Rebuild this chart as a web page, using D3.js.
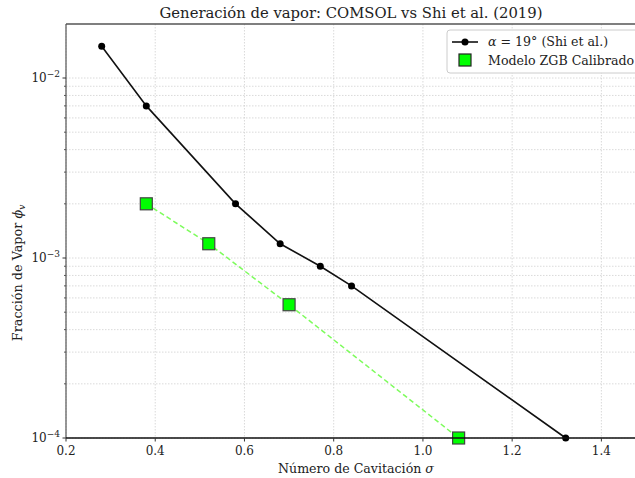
<!DOCTYPE html>
<html>
<head>
<meta charset="utf-8">
<script src="https://cdn.jsdelivr.net/npm/d3@7"></script>
<style>
  body { margin: 0; background: #fff; }
  svg text { font-family: "DejaVu Serif", serif; fill: #222; }
</style>
</head>
<body>
<div id="chart"></div>
<script>
// DATA
// ----------------------------------------
const SHI_SIGMA = [0.28, 0.38, 0.58, 0.68, 0.77, 0.84, 1.32];
const SHI_PHI = [0.015, 0.007, 0.002, 0.0012, 0.0009, 0.0007, 0.0001];
const ZGB_SIGMA = [0.38, 0.52, 0.70, 1.08];
const ZGB_PHI = [0.002, 0.0012, 0.00055, 0.0001];
const X_TICKS = [0.2, 0.4, 0.6, 0.8, 1.0, 1.2, 1.4];
const Y_MAJOR = [1e-4, 1e-3, 1e-2];
const Y_MAJOR_LABELS = ["−4", "−3", "−2"];

// LAYOUT
// ----------------------------------------
const WIDTH = 635, HEIGHT = 478;
const M = { left: 66, top: 24, right: 646, bottom: 438 };

const svg = d3.select("#chart").append("svg")
    .attr("width", WIDTH)
    .attr("height", HEIGHT);

const x = d3.scaleLinear().domain([0.2, 1.5]).range([M.left, M.right]);
const y = d3.scaleLog().domain([1e-4, Math.pow(10, -1.7)]).range([M.bottom, M.top]);

// minor ticks on y
const yMinor = [];
[1e-4, 1e-3, 1e-2].forEach(d => {
    for (let k = 2; k <= 9; k++) {
        const v = d * k;
        if (v <= y.domain()[1]) yMinor.push(v);
    }
});

// Grid
const grid = svg.append("g").attr("stroke", "#d0d0d0").attr("stroke-width", 0.8)
    .attr("stroke-dasharray", "1.5,1.5");
X_TICKS.forEach(t => {
    grid.append("line").attr("x1", x(t)).attr("x2", x(t)).attr("y1", M.top).attr("y2", M.bottom);
});
Y_MAJOR.concat(yMinor).forEach(t => {
    grid.append("line").attr("x1", M.left).attr("x2", M.right).attr("y1", y(t)).attr("y2", y(t));
});

// Spines
svg.append("line").attr("x1", M.left).attr("x2", M.right).attr("y1", M.top).attr("y2", M.top)
    .attr("stroke", "#555").attr("stroke-width", 1.6);
svg.append("line").attr("x1", M.left).attr("x2", M.left).attr("y1", M.top).attr("y2", M.bottom)
    .attr("stroke", "#555").attr("stroke-width", 1.2);

// Series lines
const line = d3.line().x(d => x(d[0])).y(d => y(d[1]));
const shi = d3.zip(SHI_SIGMA, SHI_PHI);
const zgb = d3.zip(ZGB_SIGMA, ZGB_PHI);

svg.append("path").datum(zgb).attr("d", line)
    .attr("fill", "none").attr("stroke", "#7dfc5c").attr("stroke-width", 1.5)
    .attr("stroke-dasharray", "5,3");

svg.append("path").datum(shi).attr("d", line)
    .attr("fill", "none").attr("stroke", "#111").attr("stroke-width", 1.6);

svg.selectAll("circle.shi").data(shi).enter().append("circle")
    .attr("class", "shi")
    .attr("cx", d => x(d[0])).attr("cy", d => y(d[1])).attr("r", 3.5)
    .attr("fill", "#000");

svg.selectAll("rect.zgb").data(zgb).enter().append("rect")
    .attr("class", "zgb")
    .attr("x", d => x(d[0]) - 6).attr("y", d => y(d[1]) - 6)
    .attr("width", 12).attr("height", 12)
    .attr("fill", "#00ff00").attr("stroke", "#444").attr("stroke-width", 1.2);

// Bottom spine (drawn over)
svg.append("line").attr("x1", M.left).attr("x2", M.right).attr("y1", M.bottom).attr("y2", M.bottom)
    .attr("stroke", "#111").attr("stroke-width", 1.6);

// X ticks
const xAxis = svg.append("g");
X_TICKS.forEach(t => {
    xAxis.append("line").attr("x1", x(t)).attr("x2", x(t)).attr("y1", M.bottom).attr("y2", M.bottom + 3.5)
        .attr("stroke", "#333");
    xAxis.append("text").attr("x", x(t)).attr("y", M.bottom + 17)
        .attr("text-anchor", "middle").attr("font-size", 12)
        .text(t.toFixed(1));
});

// Y ticks
const yAxis = svg.append("g");
Y_MAJOR.forEach((t, i) => {
    yAxis.append("line").attr("x1", M.left - 3.5).attr("x2", M.left).attr("y1", y(t)).attr("y2", y(t))
        .attr("stroke", "#333");
    const lbl = yAxis.append("text").attr("x", M.left - 6).attr("y", y(t) + 4)
        .attr("text-anchor", "end").attr("font-size", 12);
    lbl.append("tspan").text("10");
    lbl.append("tspan").attr("dy", -5).attr("font-size", 9).text(Y_MAJOR_LABELS[i]);
});
yMinor.forEach(t => {
    yAxis.append("line").attr("x1", M.left - 2).attr("x2", M.left).attr("y1", y(t)).attr("y2", y(t))
        .attr("stroke", "#555");
});

// Title and labels
svg.append("text").attr("x", 351).attr("y", 18)
    .attr("text-anchor", "middle").attr("font-size", 14.8)
    .text("Generación de vapor: COMSOL vs Shi et al. (2019)");

const xl = svg.append("text").attr("x", 356).attr("y", 473)
    .attr("text-anchor", "middle").attr("font-size", 12.6);
xl.append("tspan").text("Número de Cavitación ");
xl.append("tspan").attr("font-style", "italic").text("σ");

const yl = svg.append("text")
    .attr("transform", "translate(22, 273) rotate(-90)")
    .attr("text-anchor", "middle").attr("font-size", 12.8);
yl.append("tspan").text("Fracción de Vapor ");
yl.append("tspan").attr("font-style", "italic").text("ϕ");
yl.append("tspan").attr("font-style", "italic").attr("font-size", 9).attr("dy", 3).text("v");

// Legend
const legend = svg.append("g");
legend.append("rect").attr("x", 447).attr("y", 30).attr("width", 200).attr("height", 43).attr("rx", 3)
    .attr("fill", "#fff").attr("fill-opacity", 0.9).attr("stroke", "#ccc");
legend.append("line").attr("x1", 452).attr("x2", 478).attr("y1", 42).attr("y2", 42)
    .attr("stroke", "#111").attr("stroke-width", 1.6);
legend.append("circle").attr("cx", 465).attr("cy", 42).attr("r", 3.5).attr("fill", "#000");
const l1 = legend.append("text").attr("x", 488).attr("y", 46).attr("font-size", 12.6);
l1.append("tspan").attr("font-style", "italic").text("α");
l1.append("tspan").text(" = 19° (Shi et al.)");
legend.append("rect").attr("x", 459).attr("y", 54).attr("width", 12).attr("height", 12)
    .attr("fill", "#00ff00").attr("stroke", "#222").attr("stroke-width", 1.2);
legend.append("text").attr("x", 488).attr("y", 65).attr("font-size", 12.6).text("Modelo ZGB Calibrado");
</script>
</body>
</html>
